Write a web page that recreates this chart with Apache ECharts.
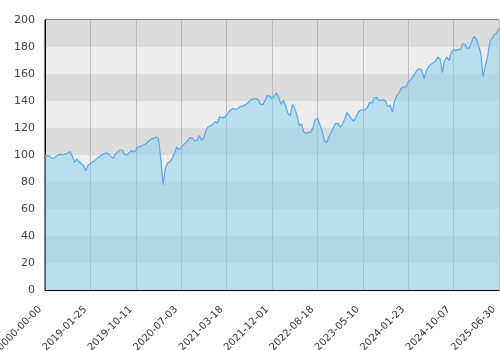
<!DOCTYPE html>
<html>
<head>
<meta charset="utf-8">
<script src="https://cdn.jsdelivr.net/npm/echarts@6/dist/echarts.min.js"></script>
<style>html,body{margin:0;padding:0;background:#fff}#c{width:500px;height:350px}</style>
</head>
<body>
<div id="c"></div>
<script>
// Tick labels shown on the x axis (one every 20 samples)
const tickLabels = ['0000-00-00','2019-01-25','2019-10-11','2020-07-03','2021-03-18','2021-12-01','2022-08-18','2023-05-10','2024-01-23','2024-10-07','2025-06-30'];
const samplesPerTick = 20;

// Series values (index value)
const values = [
100,99.5,99,97.5,97.8,99,100.3,100.5,100,100.8,
101.5,102.5,99.5,94.5,97,95,93.5,92,88.4,92.5,
93.5,95,96,97.5,98.8,100,101,101.7,100.8,99,
97.5,100.5,102.5,103.7,103.7,100.5,100,101.5,103.5,102,
103.5,105.8,106.5,107.2,108,109.3,110.7,112,112.5,113.4,
112,97,78,90,94,95,97.5,101,106,104,
105.7,107.5,109.2,110.8,113,112.5,110.5,111,114.5,111,
113,118.5,121,121.7,123,124.7,123.8,128.5,127.5,128,
129.6,132,133.5,134.6,133.5,134.5,135.8,136.2,137,138,
140,141,141.7,141.7,141,137.5,137.5,140.7,144,143.5,
142,143.7,146,142.5,137.5,140.5,136.5,131,129,137.5,
134.5,129.5,122,123,117,116,117,116.7,120,126,
127.5,123,118.5,111,109,113,116.5,120,123.5,123.5,
120.5,122.5,126.5,131.4,129.3,127,125,128.4,131.5,133.3,
133.3,133.5,135,139,138.3,142,142.8,140.7,140.5,141,
140,136,137,132,140,144,146.3,149.5,150.5,150.5,
154,155.5,157.5,160.5,163,164,163,156.5,162.5,165.4,
167,168.3,169.2,172.5,171.5,161,170,172.5,170,176,
178.3,177,178.5,177.8,182.5,182,179,179.5,184,187.7,
186,181,175,158,166,173,184,186.5,189.5,190.5,
194
];

const categories = values.map((_, i) => i);

const chart = echarts.init(document.getElementById('c'), null, {renderer: 'canvas'});
chart.setOption({
  animation: false,
  backgroundColor: '#ffffff',
  grid: {left: 45, top: 20, right: 1, bottom: 60, containLabel: false, outerBoundsMode: 'none', show: true, borderColor: '#000', borderWidth: 1, backgroundColor: 'transparent'},
  xAxis: {
    type: 'category',
    data: categories,
    boundaryGap: false,
    axisLine: {show: true, lineStyle: {color: '#000', width: 1}},
    axisTick: {show: false},
    axisLabel: {
      interval: samplesPerTick - 1,
      rotate: 45,
      fontFamily: 'DejaVu Sans',
      fontSize: 10,
      color: '#333',
      margin: 13,
      padding: [0, 7, 0, 0],
      formatter: (v, idx) => (idx % samplesPerTick === 0 ? tickLabels[idx / samplesPerTick] : '')
    },
    splitLine: {show: true, interval: samplesPerTick - 1, lineStyle: {color: '#bbbbbb', width: 1}}
  },
  yAxis: {
    type: 'value',
    min: 0,
    max: 200,
    interval: 20,
    axisLine: {show: true, lineStyle: {color: '#000', width: 1}},
    axisTick: {show: false},
    axisLabel: {fontFamily: 'DejaVu Sans', fontSize: 11, color: '#444', margin: 10},
    splitLine: {show: false},
    splitArea: {show: true, areaStyle: {color: ['#ededed', '#dcdcdc']}}
  },
  series: [{
    type: 'line',
    data: values,
    showSymbol: false,
    symbol: 'none',
    lineStyle: {color: '#55a6f2', width: 1.2},
    areaStyle: {color: 'rgba(133,207,235,0.5)', opacity: 1},
    z: 3
  }]
});
</script>
</body>
</html>
